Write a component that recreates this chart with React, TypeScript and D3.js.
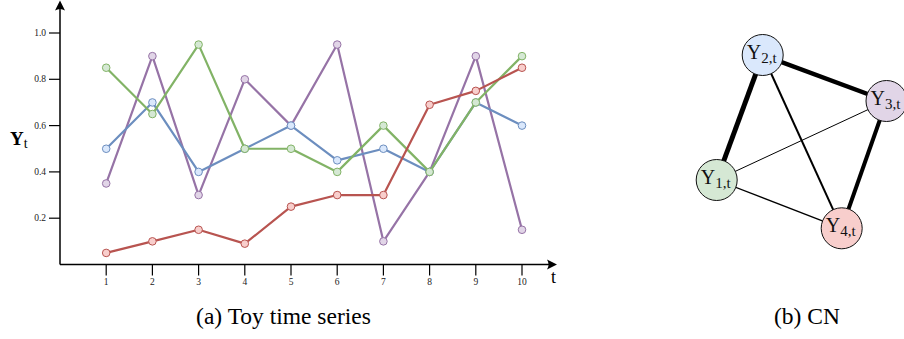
import React from "react";
import * as d3 from "d3";

// Toy time series values, t = 1..10
const timeSteps = [1, 2, 3, 4, 5, 6, 7, 8, 9, 10];
const blueSeries = [0.5, 0.7, 0.4, 0.5, 0.6, 0.45, 0.5, 0.4, 0.7, 0.6];
const greenSeries = [0.85, 0.65, 0.95, 0.5, 0.5, 0.4, 0.6, 0.4, 0.7, 0.9];
const purpleSeries = [0.35, 0.9, 0.3, 0.8, 0.6, 0.95, 0.1, 0.4, 0.9, 0.15];
const redSeries = [0.05, 0.1, 0.15, 0.09, 0.25, 0.3, 0.3, 0.69, 0.75, 0.85];
const yTicks = [0.2, 0.4, 0.6, 0.8, 1.0];

// Network nodes and weighted edges
const nodeIds = ["1", "2", "3", "4"];
const edgeList: [string, string, number][] = [
  ["1", "2", 5],
  ["2", "3", 4.5],
  ["3", "4", 4],
  ["2", "4", 2],
  ["1", "4", 1.3],
  ["1", "3", 1],
];

const palette = {
  blue: { stroke: "#6c8ebf", fill: "#dae8fc" },
  green: { stroke: "#82b366", fill: "#d5e8d4" },
  purple: { stroke: "#9673a6", fill: "#e1d5e7" },
  red: { stroke: "#b85450", fill: "#f8cecc" },
};

const seriesList = [
  { name: "purple", values: purpleSeries, ...palette.purple },
  { name: "blue", values: blueSeries, ...palette.blue },
  { name: "green", values: greenSeries, ...palette.green },
  { name: "red", values: redSeries, ...palette.red },
];

// Graph layout
const nodeLayout: Record<string, { x: number; y: number; fill: string }> = {
  "1": { x: 716.7, y: 180, fill: palette.green.fill },
  "2": { x: 762.7, y: 55, fill: palette.blue.fill },
  "3": { x: 886.5, y: 101, fill: palette.purple.fill },
  "4": { x: 841.7, y: 228.3, fill: palette.red.fill },
};

const SERIF = "'Liberation Serif', 'DejaVu Serif', serif";

export default function App() {
  const x = d3.scaleLinear().domain([0, 10]).range([60, 522]);
  const y = d3.scaleLinear().domain([0, 1]).range([264.5, 33]);
  const x0 = x(0);
  const y0 = y(0);
  const line = d3
    .line<number>()
    .x((_, i) => x(timeSteps[i]))
    .y((d) => y(d));

  const nodeR = 20.5;

  const arrowHead = (tipX: number, tipY: number, dir: "right" | "up") => {
    const L = 10;
    const W = 5;
    if (dir === "right") {
      return `M${tipX},${tipY} L${tipX - L},${tipY - W} Q${tipX - L * 0.7},${tipY} ${tipX - L},${tipY + W} Z`;
    }
    return `M${tipX},${tipY} L${tipX - W},${tipY + L} Q${tipX},${tipY + L * 0.7} ${tipX + W},${tipY + L} Z`;
  };

  return (
    <svg
      width={904}
      height={339}
      style={{ position: "absolute", left: 0, top: 0, background: "#fff" }}
    >
      {/* Axes */}
      <line x1={x0} y1={y0} x2={x0} y2={6} stroke="#000" strokeWidth={1.5} />
      <path d={arrowHead(x0, 0.5, "up")} fill="#000" />
      <line x1={x0} y1={y0} x2={550} y2={y0} stroke="#000" strokeWidth={1.5} />
      <path d={arrowHead(557, y0, "right")} fill="#000" />

      {yTicks.map((v) => (
        <g key={"y" + v}>
          <line x1={x0 - 11} x2={x0} y1={y(v)} y2={y(v)} stroke="#000" strokeWidth={1.2} />
          <text
            x={x0 - 14}
            y={y(v)}
            dy="0.32em"
            textAnchor="end"
            fontFamily={SERIF}
            fontSize={9.5}
            fill="#222"
          >
            {v.toFixed(1)}
          </text>
        </g>
      ))}
      {timeSteps.map((t) => (
        <g key={"x" + t}>
          <line x1={x(t)} x2={x(t)} y1={y0} y2={y0 + 11} stroke="#000" strokeWidth={1.2} />
          <text
            x={x(t)}
            y={285}
            textAnchor="middle"
            fontFamily={SERIF}
            fontSize={9.5}
            fill="#222"
          >
            {t}
          </text>
        </g>
      ))}

      {/* Axis labels */}
      <text x={10} y={145} fontFamily={SERIF} fontSize={19} fontWeight="bold">
        Y
        <tspan fontWeight="normal" fontSize={14} dy={3}>
          t
        </tspan>
      </text>
      <text x={551} y={283} fontFamily={SERIF} fontSize={18}>
        t
      </text>

      {/* Series */}
      {seriesList.map((s) => (
        <g key={s.name}>
          <path d={line(s.values) || ""} fill="none" stroke={s.stroke} strokeWidth={2.2} strokeLinejoin="round" />
          {s.values.map((v, i) => (
            <circle
              key={i}
              cx={x(timeSteps[i])}
              cy={y(v)}
              r={3.8}
              fill={s.fill}
              stroke={s.stroke}
              strokeWidth={1}
            />
          ))}
        </g>
      ))}

      <text x={283.5} y={324} textAnchor="middle" fontFamily={SERIF} fontSize={23.5}>
        (a) Toy time series
      </text>

      {/* Network */}
      {edgeList.map(([a, b, w]) => {
        const A = nodeLayout[a];
        const B = nodeLayout[b];
        return (
          <line
            key={a + b}
            x1={A.x}
            y1={A.y}
            x2={B.x}
            y2={B.y}
            stroke="#000"
            strokeWidth={w}
          />
        );
      })}
      {nodeIds.map((id) => {
        const n = nodeLayout[id];
        return (
          <g key={id}>
            <circle cx={n.x} cy={n.y} r={nodeR} fill={n.fill} stroke="#111" strokeWidth={1} />
            <text
              x={n.x - 1}
              y={n.y + 4}
              textAnchor="middle"
              fontFamily={SERIF}
              fontSize={20}
              fill="#111"
            >
              Y
              <tspan fontSize={15} dy={4}>
                {id},t
              </tspan>
            </text>
          </g>
        );
      })}

      <text x={807} y={324} textAnchor="middle" fontFamily={SERIF} fontSize={23.5}>
        (b) CN
      </text>
    </svg>
  );
}
